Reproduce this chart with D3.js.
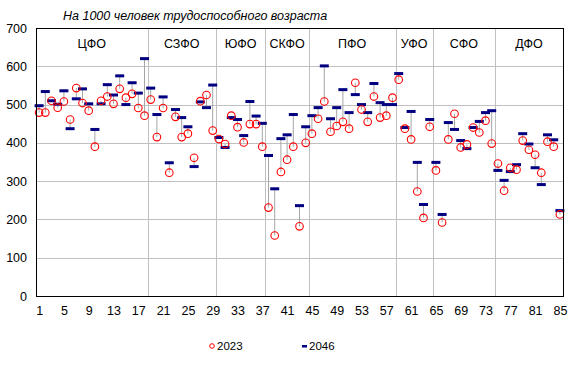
<!DOCTYPE html>
<html>
<head>
<meta charset="utf-8">
<script src="https://cdn.jsdelivr.net/npm/d3@7"></script>
<style>
  body { margin: 0; background: #fff; }
  svg { display: block; font-family: "Liberation Sans", Arial, sans-serif; }
</style>
</head>
<body>
<svg id="chart" width="578" height="365"></svg>
<script>
// значения на 1000 человек трудоспособного возраста, регионы 1..85
const v2023 = [479, 479, 510, 492, 508, 461, 543, 504, 484, 390,
               510, 521, 502, 541, 518, 528, 491, 471, 513, 415,
               491, 322, 468, 415, 424, 361, 509, 525, 432, 410,
               397, 471, 441, 401, 449, 449, 390, 231, 158, 324,
               356, 390, 182, 400, 424, 463, 508, 429, 444, 455,
               437, 557, 487, 455, 521, 466, 471, 518, 565, 437,
               409, 273, 204, 442, 328, 192, 409, 476, 388, 396,
               440, 427, 458, 398, 346, 275, 335, 330, 406, 382,
               369, 322, 403, 390, 213];
const v2046 = [497, 534, 510, 501, 536, 437, 515, 541, 502, 435,
               502, 552, 525, 575, 500, 557, 530, 620, 543, 474,
               520, 348, 487, 466, 442, 338, 507, 492, 551, 414,
               388, 466, 461, 419, 508, 470, 451, 367, 280, 411,
               421, 474, 236, 442, 471, 492, 601, 463, 492, 539,
               479, 526, 500, 479, 555, 505, 500, 500, 581, 440,
               482, 349, 239, 461, 349, 213, 453, 435, 406, 385,
               440, 456, 479, 484, 328, 302, 325, 343, 424, 397,
               335, 291, 421, 408, 223];
const districts = ["ЦФО", "СЗФО", "ЮФО", "СКФО", "ПФО", "УФО", "СФО", "ДФО"];
const districtSize = [18, 11, 8, 7, 14, 6, 10, 11];
const yTicks = [0, 100, 200, 300, 400, 500, 600, 700];
const xTicks = d3.range(1, 86, 4);
const seriesNames = ["2023", "2046"];

const svg = d3.select("#chart");
const mLeft = 36, mRight = 563, mTop = 28, mBottom = 296;

const x = d3.scaleLinear().domain([0.5, 85.5]).range([mLeft, mRight]);
const y = d3.scaleLinear().domain([0, 700]).range([mBottom, mTop]);

const rows = v2023.map((v, i) => ({ n: i + 1, a: v, b: v2046[i] }));

// горизонтальная сетка
svg.append("g")
  .selectAll("line")
  .data(yTicks.filter(t => t > 0 && t < 700))
  .join("line")
  .attr("x1", mLeft).attr("x2", mRight)
  .attr("y1", d => Math.round(y(d)) + 0.5).attr("y2", d => Math.round(y(d)) + 0.5)
  .attr("stroke", "#c0c0c0").attr("stroke-width", 1);

// границы федеральных округов
const cum = d3.cumsum(districtSize);
svg.append("g")
  .selectAll("line")
  .data(cum.slice(0, -1))
  .join("line")
  .attr("x1", d => Math.round(x(d + 0.5)) + 0.5).attr("x2", d => Math.round(x(d + 0.5)) + 0.5)
  .attr("y1", mTop).attr("y2", mBottom)
  .attr("stroke", "#c0c0c0").attr("stroke-width", 1);

// подписи округов
svg.append("g")
  .selectAll("text")
  .data(districts)
  .join("text")
  .attr("x", (d, i) => x((cum[i] - districtSize[i] + 1 + cum[i]) / 2))
  .attr("y", 48)
  .attr("text-anchor", "middle")
  .attr("font-size", 12.5)
  .attr("fill", "#000")
  .text(d => d);

// линии между 2023 и 2046
svg.append("g")
  .selectAll("line")
  .data(rows)
  .join("line")
  .attr("x1", d => x(d.n)).attr("x2", d => x(d.n))
  .attr("y1", d => y(d.a)).attr("y2", d => y(d.b))
  .attr("stroke", "#a6a6a6").attr("stroke-width", 1);

// 2046 — тёмно-синие штрихи
svg.append("g")
  .selectAll("rect")
  .data(rows)
  .join("rect")
  .attr("x", d => x(d.n) - 4.5)
  .attr("y", d => y(d.b) - 1.5)
  .attr("width", 9).attr("height", 3)
  .attr("fill", "#000080");

// 2023 — красные кружки
svg.append("g")
  .selectAll("circle")
  .data(rows)
  .join("circle")
  .attr("cx", d => x(d.n))
  .attr("cy", d => y(d.a))
  .attr("r", 3.8)
  .attr("fill", "none")
  .attr("stroke", "#ff0000")
  .attr("stroke-width", 1.1);

// рамка
svg.append("rect")
  .attr("x", mLeft + 0.5).attr("y", mTop + 0.5)
  .attr("width", mRight - mLeft).attr("height", mBottom - mTop)
  .attr("fill", "none").attr("stroke", "#000").attr("stroke-width", 1);

// оси
const yAxis = svg.append("g")
  .attr("transform", `translate(${mLeft},0)`)
  .call(d3.axisLeft(y).tickValues(yTicks).tickSize(0).tickPadding(9));
yAxis.select(".domain").remove();
yAxis.selectAll("text").attr("font-size", 12.5).attr("font-family", null).attr("fill", "#000");

const xAxis = svg.append("g")
  .attr("transform", `translate(0,${mBottom})`)
  .call(d3.axisBottom(x).tickValues(xTicks).tickSize(0).tickPadding(10));
xAxis.select(".domain").remove();
xAxis.selectAll("text").attr("font-size", 12.5).attr("font-family", null).attr("fill", "#000");

// заголовок
svg.append("text")
  .attr("x", 63).attr("y", 20)
  .attr("font-size", 12.5)
  .attr("font-style", "italic")
  .attr("fill", "#000")
  .text("На 1000 человек трудоспособного возраста");

// легенда
const legend = svg.append("g").attr("font-size", 11.5);
legend.append("circle")
  .attr("cx", 212).attr("cy", 346).attr("r", 2.3)
  .attr("fill", "none").attr("stroke", "#ff0000").attr("stroke-width", 1);
legend.append("text").attr("x", 217).attr("y", 350).text(seriesNames[0]);
legend.append("rect")
  .attr("x", 302).attr("y", 345).attr("width", 5).attr("height", 2.5)
  .attr("fill", "#000080");
legend.append("text").attr("x", 309).attr("y", 350).text(seriesNames[1]);
</script>
</body>
</html>
